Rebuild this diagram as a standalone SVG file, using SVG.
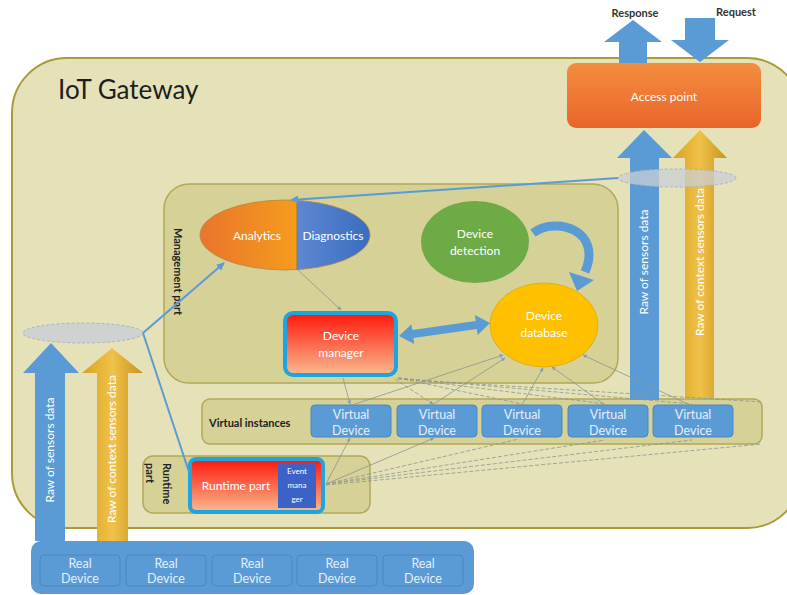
<svg xmlns="http://www.w3.org/2000/svg" width="787" height="595" viewBox="0 0 787 595">
<style>
text{font-family:Lato,"Open Sans","Liberation Sans",sans-serif;}
.wt{fill:#ffffff;font-size:12px;text-anchor:middle;}
.vt{fill:#e4eefa;font-size:12.5px;text-anchor:middle;}
.dk{fill:#222222;font-weight:bold;font-size:11px;}
.band{fill:#d5d197;stroke:#b2a856;stroke-width:1.5;}
.blk{fill:#5b9bd5;}
.gold{fill:url(#goldH);}
.dev{fill:#5b9bd5;stroke:#4a86c0;stroke-width:1;}
.thin{stroke:#8c9690;stroke-width:0.8;fill:none;}
.dash{stroke:#8c9690;stroke-width:0.8;fill:none;stroke-dasharray:4 2;}
.bl{stroke:#5b9bd5;stroke-width:2;fill:none;}
.em{fill:#ffffff;font-size:8px;text-anchor:middle;}
</style>
<defs>
<linearGradient id="accessG" x1="0" y1="0" x2="0" y2="1"><stop offset="0" stop-color="#f58d3f"/><stop offset="1" stop-color="#e8652a"/></linearGradient>
<linearGradient id="goldH" x1="0" y1="0" x2="1" y2="0"><stop offset="0" stop-color="#d8a21f"/><stop offset="0.5" stop-color="#f0c24a"/><stop offset="1" stop-color="#c8921a"/></linearGradient>
<linearGradient id="anaG" x1="0" y1="0" x2="1" y2="0"><stop offset="0" stop-color="#ea742c"/><stop offset="1" stop-color="#fdbb12"/></linearGradient>
<linearGradient id="diaG" x1="0" y1="0" x2="1" y2="0"><stop offset="0" stop-color="#8eaaf4"/><stop offset="1" stop-color="#3a6dbd"/></linearGradient>
<linearGradient id="redG" x1="0" y1="0" x2="0" y2="1"><stop offset="0" stop-color="#ff160a"/><stop offset="1" stop-color="#f9bb90"/></linearGradient>
<clipPath id="leftHalf"><rect x="190" y="195" width="107" height="80"/></clipPath>
<clipPath id="rightHalf"><rect x="297" y="195" width="80" height="80"/></clipPath>
<marker id="ah" viewBox="0 0 10 10" refX="9" refY="5" markerWidth="5" markerHeight="5" orient="auto"><path d="M0,0 L10,5 L0,10 z" fill="#7fa0c0"/></marker>
<marker id="ahb" viewBox="0 0 10 10" refX="9" refY="5" markerWidth="4" markerHeight="4" orient="auto"><path d="M0,0 L10,5 L0,10 z" fill="#5b9bd5"/></marker>
</defs>

<g id="gateway">
<rect x="12" y="58" width="790" height="470" rx="55" fill="#e5e2b9" stroke="#a99a3c" stroke-width="2"/>
<text x="58" y="99" font-size="26" fill="#1e1e1e">IoT Gateway</text>
</g>

<g id="management">
<rect class="band" x="164" y="184" width="454" height="199" rx="25"/>
<text class="dk" transform="translate(174,228) rotate(90)">Management part</text>
</g>

<g id="virtual-instances">
<rect class="band" x="202" y="399" width="560" height="45" rx="8"/>
<text class="dk" x="209" y="427" font-size="12">Virtual instances</text>
</g>

<g id="runtime-band">
<rect class="band" x="143" y="456" width="227" height="57" rx="10"/>
<text class="dk" transform="translate(163,463) rotate(90)">Runtime</text>
<text class="dk" transform="translate(146,463) rotate(90)">part</text>
</g>

<g id="access-point">
<rect x="567" y="63" width="194" height="65" rx="9" fill="url(#accessG)"/>
<text class="wt" x="664" y="101" font-size="13">Access point</text>
</g>

<g id="response">
<polygon class="blk" points="619,63 619,42 604,42 633,20 662,42 647,42 647,63"/>
<text x="635" y="17" font-size="11" font-weight="bold" fill="#333" text-anchor="middle">Response</text>
</g>
<g id="request">
<polygon class="blk" points="685,18 715,18 715,40 729,40 700,62 671,40 685,40"/>
<text x="736" y="16" font-size="11" font-weight="bold" fill="#333" text-anchor="middle">Request</text>
</g>

<g id="right-sensors">
<polygon class="blk" points="630,400 630,158 617,158 644,130 672,158 659,158 659,400"/>
<text class="wt" font-size="11" transform="translate(648,262) rotate(-90)">Raw of sensors data</text>
</g>
<g id="right-context">
<polygon class="gold" points="685,398 685,158 673,158 700,130 727,158 714,158 714,398"/>
<text class="wt" font-size="11" transform="translate(704,262) rotate(-90)">Raw of context sensors data</text>
</g>
<g id="right-bus">
<ellipse cx="677" cy="178" rx="59" ry="9" fill="#c9cfd6" fill-opacity="0.75" stroke="#a8b4c0" stroke-dasharray="3 2"/>
</g>

<g id="analytics-diagnostics">
<ellipse cx="285" cy="235" rx="85" ry="35" fill="url(#anaG)" clip-path="url(#leftHalf)"/>
<ellipse cx="285" cy="235" rx="85" ry="35" fill="url(#diaG)" clip-path="url(#rightHalf)"/>
<ellipse cx="285" cy="235" rx="85" ry="35" fill="none" stroke="#b08a40" stroke-width="0.8"/>
<line x1="297" y1="200" x2="297" y2="270" stroke="#8c7a3a" stroke-width="1"/>
<text class="wt" x="257" y="240">Analytics</text>
<text class="wt" x="333" y="240">Diagnostics</text>
</g>

<g id="device-detection">
<ellipse cx="475" cy="242" rx="54" ry="41" fill="#6eaa45"/>
<text class="wt" x="475" y="238">Device</text>
<text class="wt" x="475" y="255">detection</text>
</g>

<g id="device-database">
<ellipse cx="544" cy="325" rx="54" ry="42" fill="#ffc000" stroke="#e0a800" stroke-width="0.8"/>
<text class="wt" x="544" y="320" fill="#fff6c8">Device</text>
<text class="wt" x="544" y="337" fill="#fff6c8">database</text>
</g>

<g id="device-manager">
<rect x="285" y="313" width="111" height="62" rx="8" fill="url(#redG)" stroke="#1ea5e0" stroke-width="4"/>
<text class="wt" x="341" y="340" fill="#fde8da">Device</text>
<text class="wt" x="341" y="357" fill="#fde8da">manager</text>
</g>

<g id="runtime-part">
<rect x="190" y="459" width="133" height="53" rx="6" fill="url(#redG)" stroke="#1ea5e0" stroke-width="4"/>
<text class="wt" x="236" y="490">Runtime part</text>
</g>
<g id="event-manager">
<rect x="278" y="463" width="38" height="45" fill="#3b62c6"/>
<text class="em" x="297" y="474">Event</text>
<text class="em" x="297" y="488">mana</text>
<text class="em" x="297" y="502">ger</text>
</g>

<g id="virtual-devices">
<g id="vd1"><rect class="dev" x="311" y="405" width="80" height="32" rx="4"/><text class="vt" x="351" y="419">Virtual</text><text class="vt" x="351" y="435">Device</text></g>
<g id="vd2"><rect class="dev" x="397" y="405" width="80" height="32" rx="4"/><text class="vt" x="437" y="419">Virtual</text><text class="vt" x="437" y="435">Device</text></g>
<g id="vd3"><rect class="dev" x="482" y="405" width="80" height="32" rx="4"/><text class="vt" x="522" y="419">Virtual</text><text class="vt" x="522" y="435">Device</text></g>
<g id="vd4"><rect class="dev" x="568" y="405" width="80" height="32" rx="4"/><text class="vt" x="608" y="419">Virtual</text><text class="vt" x="608" y="435">Device</text></g>
<g id="vd5"><rect class="dev" x="653" y="405" width="80" height="32" rx="4"/><text class="vt" x="693" y="419">Virtual</text><text class="vt" x="693" y="435">Device</text></g>
</g>

<g id="real-devices">
<rect x="31" y="541" width="443" height="53" rx="10" fill="#5b9bd5"/>
<g id="rd1"><rect x="40" y="555" width="80" height="31" rx="4" fill="#5b9bd5" stroke="#4a86c0"/><text class="vt" x="80" y="568">Real</text><text class="vt" x="80" y="583">Device</text></g>
<g id="rd2"><rect x="126" y="555" width="80" height="31" rx="4" fill="#5b9bd5" stroke="#4a86c0"/><text class="vt" x="166" y="568">Real</text><text class="vt" x="166" y="583">Device</text></g>
<g id="rd3"><rect x="212" y="555" width="80" height="31" rx="4" fill="#5b9bd5" stroke="#4a86c0"/><text class="vt" x="252" y="568">Real</text><text class="vt" x="252" y="583">Device</text></g>
<g id="rd4"><rect x="297" y="555" width="80" height="31" rx="4" fill="#5b9bd5" stroke="#4a86c0"/><text class="vt" x="337" y="568">Real</text><text class="vt" x="337" y="583">Device</text></g>
<g id="rd5"><rect x="383" y="555" width="80" height="31" rx="4" fill="#5b9bd5" stroke="#4a86c0"/><text class="vt" x="423" y="568">Real</text><text class="vt" x="423" y="583">Device</text></g>
</g>

<g id="left-sensors">
<polygon class="blk" points="35,541 35,373 23,373 51,343 79,373 65,373 65,541"/>
<text class="wt" font-size="11" transform="translate(54,450) rotate(-90)">Raw of sensors data</text>
</g>
<g id="left-context">
<polygon class="gold" points="97,541 97,373 82,373 112,348 143,373 128,373 128,541"/>
<text class="wt" font-size="11" transform="translate(116,449) rotate(-90)">Raw of context sensors data</text>
</g>
<g id="left-bus">
<ellipse cx="83" cy="333" rx="60" ry="10" fill="#c9cfd6" fill-opacity="0.8" stroke="#a8b4c0" stroke-dasharray="3 2"/>
</g>

<g id="connectors">
<line class="bl" x1="618" y1="178" x2="291" y2="200" marker-end="url(#ahb)"/>
<line class="bl" x1="143" y1="333" x2="224" y2="263" marker-end="url(#ahb)"/>
<line class="bl" x1="143" y1="333" x2="189" y2="472"/>
<path d="M533,233 C556,216 603,230 585,272" stroke="#5b9bd5" stroke-width="9" fill="none"/>
<polygon class="blk" points="577,291 569,272 594,280"/>
<g transform="translate(399,336) rotate(-8.1)"><polygon class="blk" points="0,0 14,-10 14,-4 78,-4 78,-10 92,0 78,10 78,4 14,4 14,10"/></g>
<line class="thin" x1="298" y1="270" x2="341" y2="310" marker-end="url(#ah)"/>
<line class="thin" x1="343" y1="378" x2="350" y2="404" marker-end="url(#ah)"/>
<line class="dash" x1="395" y1="379" x2="433" y2="404" marker-end="url(#ah)"/>
<line class="dash" x1="398" y1="378" x2="522" y2="404"/>
<line class="dash" x1="398" y1="378" x2="606" y2="404"/>
<line class="dash" x1="398" y1="378" x2="692" y2="404"/>
<line class="dash" x1="398" y1="379" x2="762" y2="402"/>
<line class="thin" x1="352" y1="405" x2="503" y2="355" marker-end="url(#ah)"/>
<line class="thin" x1="432" y1="405" x2="505" y2="358" marker-end="url(#ah)"/>
<line class="thin" x1="522" y1="405" x2="543" y2="368" marker-end="url(#ah)"/>
<line class="thin" x1="605" y1="405" x2="552" y2="367" marker-end="url(#ah)"/>
<line class="thin" x1="692" y1="406" x2="583" y2="355" marker-end="url(#ah)"/>
<line class="thin" x1="326" y1="484" x2="350" y2="438" marker-end="url(#ah)"/>
<line class="thin" x1="326" y1="484" x2="434" y2="438" marker-end="url(#ah)"/>
<line class="dash" x1="326" y1="484" x2="519" y2="439"/>
<line class="dash" x1="326" y1="484" x2="605" y2="440"/>
<line class="dash" x1="326" y1="484" x2="692" y2="440"/>
<line class="dash" x1="326" y1="485" x2="762" y2="444"/>
</g>
</svg>
